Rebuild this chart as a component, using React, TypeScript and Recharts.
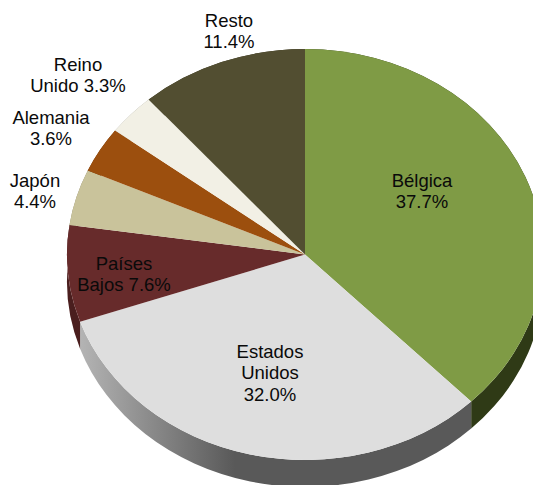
import { Pie, PieChart } from 'recharts'

const categories = ['Bélgica', 'Estados Unidos', 'Países Bajos', 'Japón', 'Alemania', 'Reino Unido', 'Resto']
const shares = [37.7, 32.0, 7.6, 4.4, 3.6, 3.3, 11.4]
const labelLines = [
  ['Bélgica', '37.7%'],
  ['Estados', 'Unidos', '32.0%'],
  ['Países', 'Bajos 7.6%'],
  ['Japón', '4.4%'],
  ['Alemania', '3.6%'],
  ['Reino', 'Unido 3.3%'],
  ['Resto', '11.4%'],
]

const topColors = ['#7f9b45', '#dedede', '#672b2b', '#c9c39b', '#9c4f0e', '#f2f0e5', '#524e31']
const wallColors = ['#2f3a16', 'url(#wallGrey)', '#4a1e1e', '#8a8568', '#6b360a', '#a5a39a', '#37341f']

// centre of each label's first line
const labelSpots = [
  [422, 180],
  [270, 351],
  [124, 263],
  [35, 180],
  [51, 117],
  [78, 64],
  [229, 20],
]

const CX = 305
const CY = 254.5
const RY = 205.5
const RX = 238
const DEPTH = 27
const LINE = 21.5

const rows = categories.map((name, i) => ({ name, share: shares[i] }))

const pt = (deg: number) => {
  const a = (deg * Math.PI) / 180
  return [CX + RX * Math.cos(a), CY - RY * Math.sin(a)]
}

// recharts only draws circles, so the tilted look is drawn as an ellipse from its angles
const TopSlice = (p: any) => {
  const [x0, y0] = pt(p.startAngle)
  const [x1, y1] = pt(p.endAngle)
  const large = Math.abs(p.endAngle - p.startAngle) > 180 ? 1 : 0
  return (
    <path
      d={`M${CX},${CY} L${x0},${y0} A${RX},${RY} 0 ${large} 1 ${x1},${y1} Z`}
      fill={topColors[p.index]}
    />
  )
}

const WallSlice = (p: any) => {
  const [x0, y0] = pt(p.startAngle)
  const [x1, y1] = pt(p.endAngle)
  const large = Math.abs(p.endAngle - p.startAngle) > 180 ? 1 : 0
  return (
    <path
      d={`M${x0},${y0} A${RX},${RY} 0 ${large} 1 ${x1},${y1} L${x1},${y1 + DEPTH} A${RX},${RY} 0 ${large} 0 ${x0},${y0 + DEPTH} Z`}
      fill={wallColors[p.index]}
    />
  )
}

const SliceLabel = (p: any) => {
  const [x, y] = labelSpots[p.index]
  return (
    <text textAnchor="middle" fontFamily="Liberation Sans" fontSize={18.5} fill="#0a0a0a">
      {labelLines[p.index].map((line, i) => (
        <tspan key={line} x={x} y={y + i * LINE} dominantBaseline="central">
          {line}
        </tspan>
      ))}
    </text>
  )
}

export default function App() {
  return (
    <div style={{ width: 533, height: 485, overflow: 'hidden' }}>
      <style>{'body{margin:0;background:#fff}'}</style>
      <PieChart width={533} height={485} margin={{ top: 0, right: 0, bottom: 0, left: 0 }}>
        <defs>
          <linearGradient id="wallGrey" gradientUnits="userSpaceOnUse" x1="80" y1="0" x2="235" y2="0">
            <stop offset="0" stopColor="#b4b4b4" />
            <stop offset="1" stopColor="#595959" />
          </linearGradient>
        </defs>
        <Pie
          data={rows}
          dataKey="share"
          nameKey="name"
          cx={CX}
          cy={CY}
          outerRadius={RY}
          startAngle={90}
          endAngle={-270}
          stroke="none"
          shape={WallSlice}
          isAnimationActive={false}
        />
        <Pie
          data={rows}
          dataKey="share"
          nameKey="name"
          cx={CX}
          cy={CY}
          outerRadius={RY}
          startAngle={90}
          endAngle={-270}
          stroke="none"
          shape={TopSlice}
          label={SliceLabel}
          labelLine={false}
          isAnimationActive={false}
        />
      </PieChart>
    </div>
  )
}
